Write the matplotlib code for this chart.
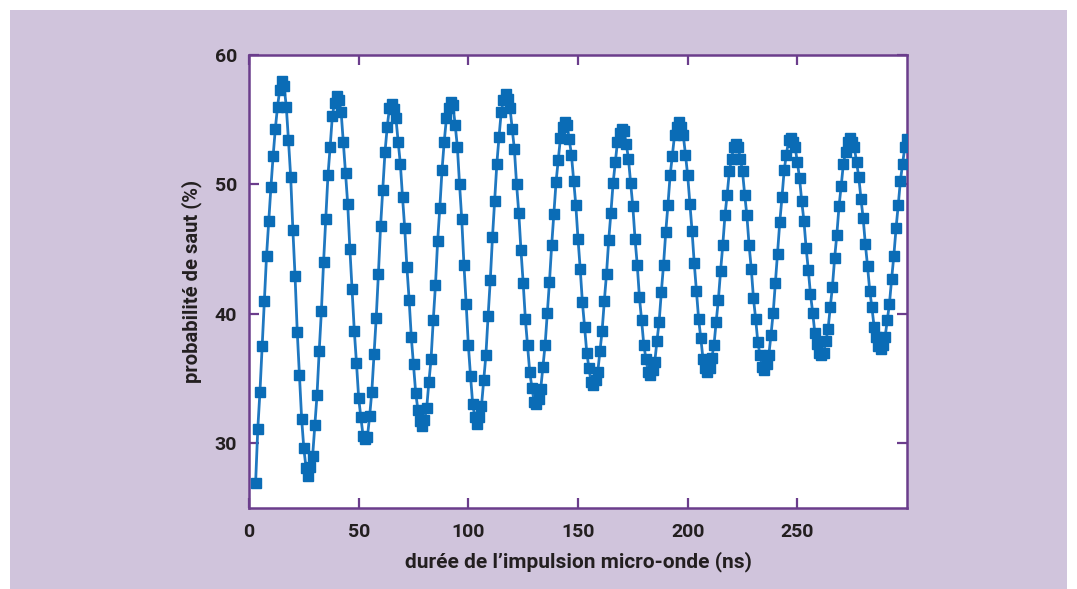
import numpy as np
import matplotlib
matplotlib.use("Agg")
import matplotlib.pyplot as plt
from matplotlib.patches import Rectangle

# durée de l'impulsion (ns), un point par ns
t_ns = np.arange(3, 301)

# probabilité de saut (%), demi-oscillation par demi-oscillation
montee1 = [26.9, 31.1, 34.0, 37.5, 41.0, 44.5, 47.2, 49.8, 52.2, 54.3, 56.0, 57.3, 58.0]
descente1 = [57.6, 56.0, 53.4, 50.6, 46.5, 42.9, 38.6, 35.3, 31.9, 29.6, 28.1, 27.5]
montee2 = [28.2, 29.0, 31.4, 33.7, 37.1, 40.2, 44.0, 47.3, 50.7, 52.9, 55.3, 56.3, 56.8]
descente2 = [56.5, 55.6, 53.3, 50.9, 48.5, 45.0, 41.9, 38.7, 36.2, 33.5, 32.0, 30.6, 30.3]
montee3 = [30.5, 32.1, 34.0, 36.9, 39.7, 43.1, 46.8, 49.6, 52.5, 54.4, 55.9, 56.2]
descente3 = [55.8, 55.1, 53.3, 51.6, 49.0, 46.6, 43.6, 41.1, 38.2, 36.1, 33.9, 32.6, 31.7, 31.3]
montee4 = [31.8, 32.7, 34.7, 36.5, 39.5, 42.2, 45.6, 48.2, 51.1, 53.3, 55.1, 55.9, 56.4]
descente4 = [56.1, 54.6, 52.9, 50.0, 47.3, 43.8, 40.8, 37.6, 35.2, 33.0, 32.0, 31.5]
montee5 = [32.0, 32.9, 34.9, 36.8, 39.8, 42.6, 45.9, 48.7, 51.6, 53.7, 55.6, 56.5, 57.0]
descente5 = [56.6, 55.9, 54.3, 52.7, 50.0, 47.8, 44.9, 42.4, 39.6, 37.6, 35.5, 34.3, 33.2, 33.0]
montee6 = [33.4, 34.2, 35.9, 37.6, 40.1, 42.5, 45.3, 47.7, 50.2, 51.9, 53.6, 54.4, 54.8]
descente6 = [54.6, 53.5, 52.3, 50.3, 48.4, 45.8, 43.5, 40.9, 39.0, 37.0, 35.8, 34.7, 34.5]
montee7 = [34.9, 35.5, 37.1, 38.7, 41.0, 43.1, 45.7, 47.8, 50.1, 51.7, 53.3, 54.0, 54.3]
descente7 = [54.1, 53.1, 52.0, 50.1, 48.3, 45.8, 43.8, 41.3, 39.5, 37.6, 36.5, 35.5, 35.3]
montee8 = [35.7, 36.3, 37.9, 39.4, 41.7, 43.8, 46.3, 48.4, 50.7, 52.2, 53.8, 54.4, 54.8]
descente8 = [54.4, 53.8, 52.3, 50.7, 48.5, 46.4, 43.9, 41.8, 39.6, 38.1, 36.5, 35.8, 35.5]
montee9 = [35.8, 36.6, 37.6, 39.4, 41.1, 43.3, 45.3, 47.6, 49.2, 51.0, 52.0, 52.9, 53.1]
descente9 = [52.9, 52.0, 51.0, 49.2, 47.6, 45.3, 43.5, 41.2, 39.6, 37.8, 36.8, 35.9, 35.7]
montee10 = [36.1, 36.8, 38.4, 40.1, 42.4, 44.6, 47.1, 49.0, 51.1, 52.3, 53.4, 53.6]
descente10 = [53.3, 52.9, 51.7, 50.5, 48.7, 47.2, 45.1, 43.4, 41.5, 40.1, 38.5, 37.7, 37.0, 36.8]
montee11 = [37.0, 37.9, 38.8, 40.5, 42.1, 44.3, 46.1, 48.3, 49.9, 51.6, 52.5, 53.3, 53.6]
descente11 = [53.3, 52.9, 51.7, 50.6, 48.9, 47.4, 45.4, 43.7, 41.8, 40.5, 39.0, 38.2, 37.5, 37.3]
montee12 = [37.6, 38.2, 39.5, 40.8, 42.7, 44.5, 46.6, 48.4, 50.3, 51.6, 52.9, 53.5]

proba = (montee1 + descente1 + montee2 + descente2 + montee3 + descente3
         + montee4 + descente4 + montee5 + descente5 + montee6 + descente6
         + montee7 + descente7 + montee8 + descente8 + montee9 + descente9
         + montee10 + descente10 + montee11 + descente11 + montee12)

x_ticks = [0, 50, 100, 150, 200, 250]
y_ticks = [30, 40, 50, 60]

violet = '#6b3d8c'
bleu = '#0a6cb6'
texte = '#231f20'

plt.rcParams['font.family'] = ['Roboto', 'DejaVu Sans']

fig = plt.figure(figsize=(10.77, 5.89), dpi=100, facecolor='white')
# fond lavande
fig.patches.append(Rectangle((10 / 1077, 0), 1057 / 1077, 579 / 589,
                             transform=fig.transFigure, facecolor='#d0c4dc',
                             edgecolor='none', zorder=-10))

ax = fig.add_axes([249 / 1077, 1 - 508 / 589, 658 / 1077, 453 / 589])
ax.set_facecolor('white')

ax.plot(t_ns, proba, color='#1f78c1', lw=2.0, marker='s', ms=7,
        mfc=bleu, mec=bleu, zorder=3)

ax.set_xlim(0, 300)
ax.set_ylim(25, 60)
ax.set_xticks(x_ticks)
ax.set_yticks(y_ticks)

for s in ax.spines.values():
    s.set_color(violet)
    s.set_linewidth(1.8)

ax.tick_params(axis='both', direction='in', length=7.5, width=1.6, color=violet,
               top=True, right=True, labelsize=14, labelcolor=texte)
ax.tick_params(axis='y', pad=8.5)
ax.tick_params(axis='x', pad=11)
for lab in ax.get_xticklabels() + ax.get_yticklabels():
    lab.set_fontweight('bold')

ax.set_xlabel('durée de l’impulsion micro-onde (ns)', fontsize=15,
              fontweight='bold', color=texte, labelpad=7)
ax.set_ylabel('probabilité de saut (%)', fontsize=14.5,
              fontweight='bold', color=texte, labelpad=9)

fig.savefig('out.png', dpi=100, facecolor=fig.get_facecolor())
